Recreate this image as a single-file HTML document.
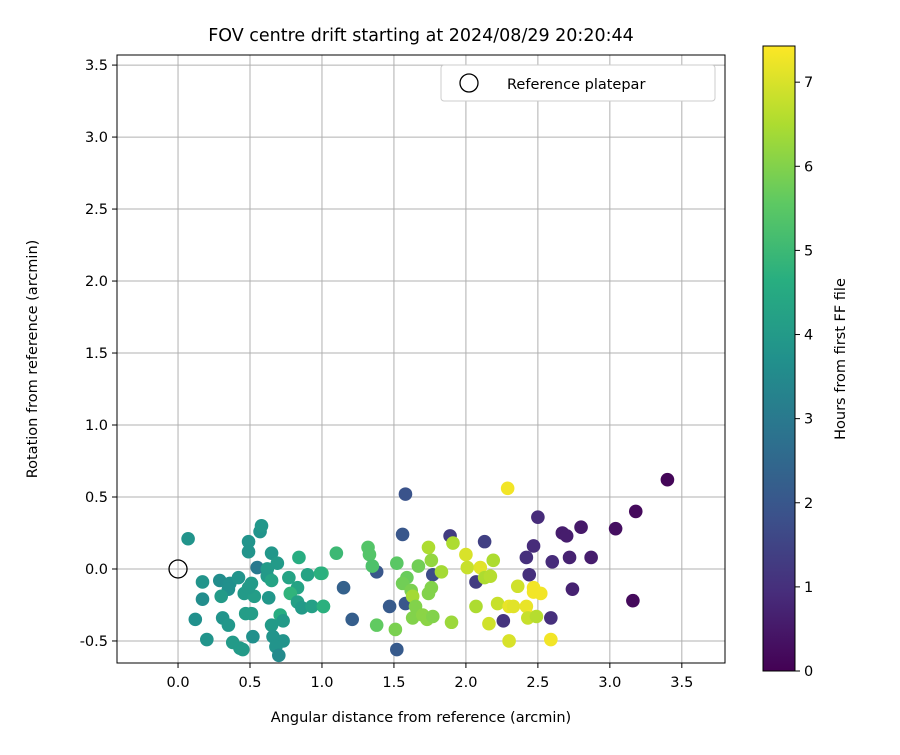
<!DOCTYPE html>
<html><head><meta charset="utf-8"><style>
body{margin:0;background:#fff;}
svg text{font-family:"DejaVu Sans","Liberation Sans",sans-serif;fill:#000;}
</style></head><body>
<svg id="chart" width="900" height="750" xmlns="http://www.w3.org/2000/svg">
<defs><linearGradient id="vir" x1="0" y1="1" x2="0" y2="0">
<stop offset="0" stop-color="#440154"/><stop offset="0.125" stop-color="#472d7b"/><stop offset="0.25" stop-color="#3b528b"/><stop offset="0.375" stop-color="#2c728e"/><stop offset="0.5" stop-color="#21918c"/><stop offset="0.625" stop-color="#28ae80"/><stop offset="0.75" stop-color="#5ec962"/><stop offset="0.875" stop-color="#addc30"/><stop offset="1" stop-color="#fde725"/>
</linearGradient></defs>
<text x="421" y="41" font-size="17.5" text-anchor="middle">FOV centre drift starting at 2024/08/29 20:20:44</text>
<g id="grid"></g>
<g id="marks"></g>
<rect x="117" y="55" width="608" height="608" fill="none" stroke="#000" stroke-width="1"/>
<g id="axes"></g>
<text x="421" y="722" font-size="14.5" text-anchor="middle">Angular distance from reference (arcmin)</text>
<text transform="translate(37,359) rotate(-90)" font-size="14.5" text-anchor="middle">Rotation from reference (arcmin)</text>
<g>
<rect x="441" y="65" width="274" height="36" rx="3" fill="#fff" stroke="#ccc"/>
<circle cx="469" cy="83" r="9" fill="none" stroke="#000" stroke-width="1.3"/>
<text x="507" y="89" font-size="14.5">Reference platepar</text>
</g>
<rect x="763" y="46" width="32" height="625" fill="url(#vir)" stroke="#000" stroke-width="1"/>
<g id="cbar"></g>
<text transform="translate(845,359) rotate(-90)" font-size="14.5" text-anchor="middle">Hours from first FF file</text>
</svg>
<script>
const xs=[3.40,3.18,3.04,2.80,2.67,2.70,2.50,2.47,2.42,2.60,2.72,2.87,2.44,2.74,3.16,2.59,2.26,2.13,2.07,1.89,
1.58,1.56,1.38,1.47,1.58,1.77,1.21,1.15,1.52,0.55,
2.29,1.91,1.10,1.32,1.33,1.35,1.52,1.74,1.76,1.83,1.67,2.00,2.01,2.10,2.19,2.13,2.17,2.36,2.47,2.47,2.52,2.22,2.30,2.33,2.42,2.07,2.16,2.44,2.43,2.49,2.30,2.59,1.90,1.00,1.59,1.56,1.62,1.63,1.76,1.74,1.65,1.01,1.38,1.51,1.63,1.70,1.73,1.77,
0.07,0.49,0.49,0.57,0.58,0.65,0.69,0.62,0.62,0.65,0.84,0.77,0.90,0.99,0.83,0.78,0.17,0.29,0.36,0.42,0.35,0.17,0.30,0.46,0.51,0.53,0.49,0.63,0.83,0.86,0.93,1.01,0.12,0.31,0.35,0.47,0.51,0.71,0.73,0.65,0.52,0.20,0.38,0.43,0.45,0.66,0.73,0.68,0.70];
const ys=[0.62,0.40,0.28,0.29,0.25,0.23,0.36,0.16,0.08,0.05,0.08,0.08,-0.04,-0.14,-0.22,-0.34,-0.36,0.19,-0.09,0.23,
0.52,0.24,-0.02,-0.26,-0.24,-0.04,-0.35,-0.13,-0.56,0.01,
0.56,0.18,0.11,0.15,0.10,0.02,0.04,0.15,0.06,-0.02,0.02,0.10,0.01,0.01,0.06,-0.06,-0.05,-0.12,-0.13,-0.16,-0.17,-0.24,-0.26,-0.26,-0.26,-0.26,-0.38,-0.33,-0.34,-0.33,-0.50,-0.49,-0.37,-0.03,-0.06,-0.10,-0.15,-0.19,-0.13,-0.17,-0.26,-0.26,-0.39,-0.42,-0.34,-0.32,-0.35,-0.33,
0.21,0.19,0.12,0.26,0.30,0.11,0.04,0.00,-0.05,-0.08,0.08,-0.06,-0.04,-0.03,-0.13,-0.17,-0.09,-0.08,-0.10,-0.06,-0.14,-0.21,-0.19,-0.17,-0.10,-0.19,-0.13,-0.20,-0.23,-0.27,-0.26,-0.26,-0.35,-0.34,-0.39,-0.31,-0.31,-0.32,-0.36,-0.39,-0.47,-0.49,-0.51,-0.55,-0.56,-0.47,-0.50,-0.54,-0.60];
const hours=[0.1,0.2,0.3,0.5,0.6,0.6,0.9,0.9,1.0,0.9,0.7,0.6,1.0,0.7,0.2,1.0,1.1,1.4,1.3,1.3,
1.9,2.0,2.0,2.1,2.0,1.7,2.2,2.3,2.1,3.0,
7.3,6.5,5.0,5.4,5.4,5.3,5.5,6.5,6.2,6.4,5.8,7.0,6.8,7.1,6.5,6.5,6.6,6.9,7.3,7.3,7.3,6.8,7.2,7.1,7.2,6.5,6.9,7.3,6.8,6.6,7.0,7.3,6.3,4.9,5.7,5.8,5.9,6.4,6.0,6.0,6.0,4.9,5.6,5.9,6.0,6.1,6.1,6.0,
3.8,3.8,3.8,3.8,3.9,3.9,4.0,4.0,4.0,4.3,4.6,4.3,4.3,4.7,4.3,4.8,3.8,3.6,3.7,3.8,3.7,3.6,4.0,4.0,4.0,4.1,4.0,3.9,4.2,4.0,4.2,4.7,3.7,3.8,3.9,4.1,4.1,4.6,4.0,4.0,3.7,3.8,4.0,4.0,4.0,3.8,3.8,3.8,3.5];
const xTicks=[0.0,0.5,1.0,1.5,2.0,2.5,3.0,3.5];
const yTicks=[-0.5,0.0,0.5,1.0,1.5,2.0,2.5,3.0,3.5];
const cTicks=[0,1,2,3,4,5,6,7];
const X0=-0.424,X1=3.80,Y0=-0.653,Y1=3.57,C1=7.43;
const sx=v=>117+(v-X0)/(X1-X0)*608;
const sy=v=>663-(v-Y0)/(Y1-Y0)*608;
const sc=v=>671-v/C1*625;
const vir=[[68,1,84],[71,45,123],[59,82,139],[44,114,142],[33,145,140],[40,174,128],[94,201,98],[173,220,48],[253,231,37]];
function col(h){let t=Math.max(0,Math.min(1,h/C1))*8;let i=Math.min(7,Math.floor(t)),f=t-i;let a=vir[i],b=vir[i+1];return `rgb(${a.map((v,k)=>Math.round(v+(b[k]-v)*f)).join(',')})`;}
const NS="http://www.w3.org/2000/svg";
function mk(p,tag,at){const e=document.createElementNS(NS,tag);for(const k in at)e.setAttribute(k,at[k]);p.appendChild(e);return e;}
const grid=document.getElementById('grid'),axes=document.getElementById('axes'),marks=document.getElementById('marks'),cbar=document.getElementById('cbar');
xTicks.forEach(t=>{const x=sx(t);
const g=mk(grid,'line',{x1:x,x2:x,y1:55,y2:663,stroke:'#b0b0b0','stroke-width':1});


mk(axes,'line',{x1:x,x2:x,y1:663,y2:668,stroke:'#000'});
const l=mk(axes,'text',{x:x,y:687,'font-size':14.5,'text-anchor':'middle'});l.textContent=t.toFixed(1);

});
yTicks.forEach(t=>{const y=sy(t);
const g=mk(grid,'line',{x1:117,x2:725,y1:y,y2:y,stroke:'#b0b0b0','stroke-width':1});


mk(axes,'line',{x1:112,x2:117,y1:y,y2:y,stroke:'#000'});
const l=mk(axes,'text',{x:108,y:y+5,'font-size':14.5,'text-anchor':'end'});l.textContent=t.toFixed(1);

});
xs.forEach((v,i)=>{const c=mk(marks,'circle',{cx:sx(v),cy:sy(ys[i]),r:6.8,fill:col(hours[i])});

});
const ref=mk(marks,'circle',{cx:sx(0),cy:sy(0),r:9,fill:'none',stroke:'#000','stroke-width':1.3});


cTicks.forEach(t=>{const y=sc(t);
mk(cbar,'line',{x1:795,x2:800,y1:y,y2:y,stroke:'#000'});
const l=mk(cbar,'text',{x:804,y:y+5,'font-size':14.5});l.textContent=t;

});
</script>
</body></html>
